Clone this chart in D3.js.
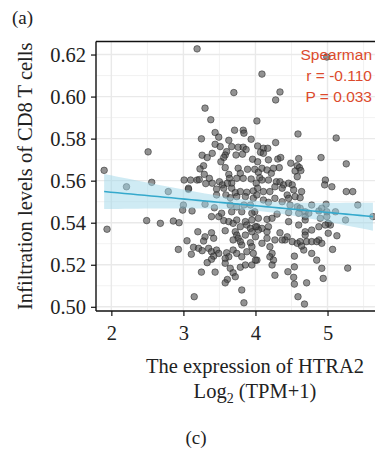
<!DOCTYPE html>
<html>
<head>
<meta charset="utf-8">
<script src="https://cdn.jsdelivr.net/npm/d3@7"></script>
<style>
  html, body { margin: 0; padding: 0; background: #fff; }
  svg { display: block; }
</style>
</head>
<body>
<svg id="chart"></svg>
<script>
const width = 375;
const height = 453;

// HTRA2 expression, log2(TPM+1)
const expression = [
  3.19,3.30,2.51,1.90,1.94,2.21,2.56,2.79,2.49,2.68,2.86,2.94,3.01,3.10,3.19,3.07,3.00,2.99,3.12,2.93,3.15,3.25,3.44,4.99,4.09,3.70,4.34,4.28,
  3.38,4.02,3.71,3.83,3.84,3.44,3.49,3.25,3.63,3.44,3.94,4.03,3.67,3.76,3.83,3.87,3.73,3.82,3.60,3.58,3.56,3.26,3.33,3.40,3.52,3.58,3.96,4.03,
  3.28,3.23,3.29,3.22,3.76,3.89,3.99,4.04,3.79,3.74,3.83,3.63,3.64,3.67,3.36,3.40,3.94,4.01,4.06,3.31,3.50,3.54,3.61,3.07,3.46,3.56,3.67,3.72,
  3.79,3.88,3.97,3.46,3.59,3.65,3.74,3.86,3.97,3.30,3.43,3.65,3.74,3.84,3.93,3.99,
  4.59,5.12,4.28,4.11,4.17,4.07,4.11,4.60,4.91,5.26,4.18,4.31,4.35,4.33,4.49,4.58,4.61,4.63,4.55,4.58,4.09,4.16,4.22,4.25,4.09,4.18,4.29,4.34,
  4.39,4.46,4.51,4.03,4.11,4.20,4.27,4.37,4.44,4.53,4.64,4.55,4.62,4.97,4.96,5.06,5.26,5.35,4.98,5.42,4.02,4.11,4.18,4.27,4.37,4.46,4.48,4.58,
  4.62,4.69,4.78,4.88,4.92,4.99,5.11,
  5.63,5.25,5.04,5.13,5.07,5.28,4.90,5.01,4.85,4.78,4.78,4.88,4.97,5.01,4.69,4.71,4.67,4.60,4.54,4.54,4.45,4.53,4.54,4.71,4.59,4.68,4.27,3.81,
  3.84,4.92,4.94,
  4.46,4.60,4.69,4.74,4.99,4.04,4.16,4.23,4.30,4.46,4.69,4.02,4.09,4.04,4.16,4.18,4.34,4.44,4.41,4.27,4.37,4.51,4.58,4.62,4.64,4.88,4.92,4.69,
  4.78,4.85,4.09,4.16,4.20,4.23,4.20,4.25,4.23,4.02,
  3.39,3.49,3.53,3.67,3.81,3.95,3.56,3.63,3.69,3.74,3.79,3.86,3.88,3.95,4.00,3.93,3.20,3.39,3.30,3.42,3.58,3.72,3.74,3.76,3.86,3.95,4.00,3.05,
  3.28,3.69,3.79,3.81,3.93,3.95,3.14,3.21,3.26,3.35,3.39,3.46,3.49,3.42,3.39,3.33,3.11,3.60,3.63,3.58,3.58,3.69,3.74,3.81,3.88,3.97,4.00,3.65,
  3.69,3.72,3.79,3.86,3.95,3.61,3.58,3.51
];

// infiltration level of CD8 T cells, same order
const cd8Level = [
  0.6227,0.5945,0.5737,0.5649,0.5369,0.5571,0.5592,0.5548,0.5410,0.5397,0.5408,0.5400,0.5603,0.5603,0.5603,0.5559,0.5484,0.5460,0.5456,0.5273,
  0.5048,0.5165,0.5165,0.6188,0.6107,0.6019,0.6022,0.5984,
  0.5890,0.5884,0.5840,0.5840,0.5826,0.5829,0.5807,0.5799,0.5792,0.5773,0.5797,0.5765,0.5762,0.5759,0.5759,0.5748,0.5722,0.5726,0.5738,0.5722,
  0.5710,0.5721,0.5710,0.5730,0.5690,0.5662,0.5702,0.5690,0.5671,0.5656,0.5630,0.5605,0.5659,0.5654,0.5654,0.5640,0.5635,0.5611,0.5611,0.5630,
  0.5611,0.5588,0.5611,0.5588,0.5608,0.5588,0.5614,0.5586,0.5595,0.5580,0.5588,0.5564,0.5560,0.5564,0.5564,0.5543,0.5548,0.5545,0.5551,0.5532,
  0.5532,0.5519,0.5524,0.5524,0.5516,0.5488,0.5471,0.5484,0.5475,0.5484,0.5484,0.5452,
  0.5822,0.5803,0.5781,0.5754,0.5754,0.5735,0.5730,0.5705,0.5710,0.5680,0.5699,0.5703,0.5710,0.5662,0.5683,0.5671,0.5662,0.5648,0.5646,0.5619,
  0.5659,0.5651,0.5635,0.5659,0.5603,0.5603,0.5595,0.5595,0.5580,0.5588,0.5580,0.5564,0.5548,0.5548,0.5571,0.5564,0.5532,0.5556,0.5548,0.5524,
  0.5519,0.5603,0.5580,0.5571,0.5548,0.5548,0.5488,0.5484,0.5532,0.5508,0.5497,0.5516,0.5500,0.5516,0.5484,0.5476,0.5469,0.5452,0.5484,0.5456,
  0.5469,0.5452,0.5452,
  0.5429,0.5413,0.5389,0.5338,0.5273,0.5184,0.5421,0.5397,0.5222,0.5254,0.5365,0.5381,0.5389,0.5350,0.5357,0.5310,0.5270,0.5389,0.5241,0.5190,
  0.5167,0.5140,0.5108,0.5114,0.5048,0.5013,0.5150,0.5080,0.5019,0.5183,0.5135,
  0.5448,0.5445,0.5429,0.5445,0.5429,0.5421,0.5416,0.5421,0.5441,0.5405,0.5413,0.5381,0.5373,0.5365,0.5357,0.5381,0.5352,0.5333,0.5318,0.5318,
  0.5318,0.5310,0.5302,0.5310,0.5289,0.5318,0.5302,0.5341,0.5310,0.5310,0.5302,0.5326,0.5286,0.5254,0.5238,0.5222,0.5199,0.5222,
  0.5429,0.5429,0.5445,0.5452,0.5452,0.5445,0.5410,0.5405,0.5397,0.5413,0.5381,0.5405,0.5389,0.5413,0.5381,0.5373,0.5357,0.5352,0.5333,0.5326,
  0.5362,0.5357,0.5341,0.5326,0.5341,0.5357,0.5333,0.5314,0.5313,0.5318,0.5310,0.5294,0.5305,0.5286,0.5283,0.5278,0.5267,0.5278,0.5262,0.5270,
  0.5254,0.5241,0.5226,0.5210,0.5250,0.5257,0.5238,0.5230,0.5207,0.5270,0.5254,0.5238,0.5262,0.5254,0.5222,0.5183,0.5162,0.5143,0.5188,0.5199,
  0.5199,0.5130,0.5114,0.5762
];

const xTicks = [2, 3, 4, 5];
const yTicks = [0.50, 0.52, 0.54, 0.56, 0.58, 0.60, 0.62];
const xMinor = [2.5, 3.5, 4.5, 5.5];
const yMinor = [0.51, 0.53, 0.55, 0.57, 0.59, 0.61];
const statLines = ['Spearman', 'r = -0.110', 'P = 0.033'];

// fitted line
const fitIntercept = 0.5609;
const fitSlope = -0.0032;

const serif = '"Liberation Serif", "DejaVu Serif", serif';
const sans = '"Liberation Sans", Arial, sans-serif';

const panel = { left: 96, top: 41.5, right: 414, bottom: 311 };

const svg = d3.select('#chart').attr('width', width).attr('height', height);
svg.append('rect').attr('width', width).attr('height', height).attr('fill', '#fff');

const x = d3.scaleLinear().domain([1.787, 6.2]).range([panel.left, panel.right]);
const y = d3.scaleLinear().domain([0.498, 0.6262]).range([panel.bottom, panel.top]);

svg.append('clipPath').attr('id', 'clip')
  .append('rect')
  .attr('x', panel.left).attr('y', panel.top)
  .attr('width', panel.right - panel.left).attr('height', panel.bottom - panel.top);

const plot = svg.append('g').attr('clip-path', 'url(#clip)');

// grid
plot.selectAll('.vminor').data(xMinor).enter().append('line')
  .attr('x1', d => x(d)).attr('x2', d => x(d))
  .attr('y1', panel.top).attr('y2', panel.bottom)
  .attr('stroke', '#f1f1f1').attr('stroke-width', 0.9);
plot.selectAll('.hminor').data(yMinor).enter().append('line')
  .attr('y1', d => y(d)).attr('y2', d => y(d))
  .attr('x1', panel.left).attr('x2', panel.right)
  .attr('stroke', '#f1f1f1').attr('stroke-width', 0.9);
plot.selectAll('.vmajor').data(xTicks).enter().append('line')
  .attr('x1', d => x(d)).attr('x2', d => x(d))
  .attr('y1', panel.top).attr('y2', panel.bottom)
  .attr('stroke', '#e9e9e9').attr('stroke-width', 1.4);
plot.selectAll('.hmajor').data(yTicks).enter().append('line')
  .attr('y1', d => y(d)).attr('y2', d => y(d))
  .attr('x1', panel.left).attr('x2', panel.right)
  .attr('stroke', '#e9e9e9').attr('stroke-width', 1.4);

// points
const points = expression.map((e, i) => ({ e: e, v: cd8Level[i] }));
plot.selectAll('circle').data(points).enter().append('circle')
  .attr('cx', d => x(d.e))
  .attr('cy', d => y(d.v))
  .attr('r', 3.3)
  .attr('fill', '#4a4a4a').attr('fill-opacity', 0.6)
  .attr('stroke', '#1a1a1a').attr('stroke-opacity', 0.55).attr('stroke-width', 0.9);

// confidence band around the fitted line
const n = points.length;
const meanX = d3.mean(expression);
const sxx = d3.sum(expression, e => (e - meanX) * (e - meanX));
const sRes = Math.sqrt(d3.sum(points, d => Math.pow(d.v - (fitIntercept + fitSlope * d.e), 2)) / (n - 2));
const xr = d3.extent(expression);
const bandData = d3.range(0, 41).map(i => {
  const e = xr[0] + (xr[1] - xr[0]) * i / 40;
  const fit = fitIntercept + fitSlope * e;
  const half = 1.97 * sRes * Math.sqrt(1 / n + (e - meanX) * (e - meanX) / sxx);
  return { e: e, lo: fit - half, hi: fit + half, fit: fit };
});

plot.append('path').datum(bandData)
  .attr('d', d3.area().x(d => x(d.e)).y0(d => y(d.lo)).y1(d => y(d.hi)))
  .attr('fill', '#9fd8ea').attr('fill-opacity', 0.5);
plot.append('path').datum(bandData)
  .attr('d', d3.line().x(d => x(d.e)).y(d => y(d.fit)))
  .attr('fill', 'none').attr('stroke', '#35a9cc').attr('stroke-width', 1.6);

// panel border (top) and axes
svg.append('line')
  .attr('x1', panel.left).attr('x2', panel.right)
  .attr('y1', panel.top).attr('y2', panel.top)
  .attr('stroke', '#111').attr('stroke-width', 1.4);

const yAxis = svg.append('g')
  .attr('transform', `translate(${panel.left},0)`)
  .call(d3.axisLeft(y).tickValues(yTicks).tickFormat(d3.format('.2f')).tickSize(5).tickPadding(5));
const xAxis = svg.append('g')
  .attr('transform', `translate(0,${panel.bottom})`)
  .call(d3.axisBottom(x).tickValues(xTicks).tickFormat(d3.format('d')).tickSize(5).tickPadding(9));

[xAxis, yAxis].forEach(g => {
  g.select('.domain').attr('stroke', '#111').attr('stroke-width', 1.4);
  g.selectAll('.tick line').attr('stroke', '#111').attr('stroke-width', 1.2);
  g.selectAll('.tick text')
    .attr('font-family', serif).attr('font-size', '20.5px').attr('fill', '#222');
});
yAxis.select('.domain').attr('d', `M0,${panel.top}V${panel.bottom}`);
xAxis.select('.domain').attr('d', `M${panel.left},0H${panel.right}`);

// stats
svg.append('g').selectAll('text').data(statLines).enter().append('text')
  .attr('x', 372)
  .attr('y', (d, i) => 60 + i * 21.2)
  .attr('text-anchor', 'end')
  .attr('font-family', sans).attr('font-size', '15.5px')
  .attr('fill', '#dc4a2c')
  .text(d => d);

// titles
svg.append('text')
  .attr('x', 12).attr('y', 24)
  .attr('font-family', serif).attr('font-size', '19px').attr('fill', '#222')
  .text('(a)');

svg.append('text')
  .attr('transform', `translate(32,${(panel.top + panel.bottom) / 2}) rotate(-90)`)
  .attr('text-anchor', 'middle')
  .attr('font-family', serif).attr('font-size', '20.5px').attr('fill', '#222')
  .text('Infiltration levels of CD8 T cells');

const xMid = (panel.left + panel.right) / 2;
svg.append('text')
  .attr('x', xMid).attr('y', 373)
  .attr('text-anchor', 'middle')
  .attr('font-family', serif).attr('font-size', '20.5px').attr('fill', '#222')
  .text('The expression of HTRA2');

const logLabel = svg.append('text')
  .attr('x', xMid).attr('y', 398)
  .attr('text-anchor', 'middle')
  .attr('font-family', serif).attr('font-size', '20.5px').attr('fill', '#222');
logLabel.append('tspan').text('Log');
logLabel.append('tspan').attr('font-size', '14px').attr('dy', 5).text('2');
logLabel.append('tspan').attr('dy', -5).text(' (TPM+1)');

svg.append('text')
  .attr('x', 196).attr('y', 444)
  .attr('text-anchor', 'middle')
  .attr('font-family', serif).attr('font-size', '19px').attr('fill', '#222')
  .text('(c)');
</script>
</body>
</html>
